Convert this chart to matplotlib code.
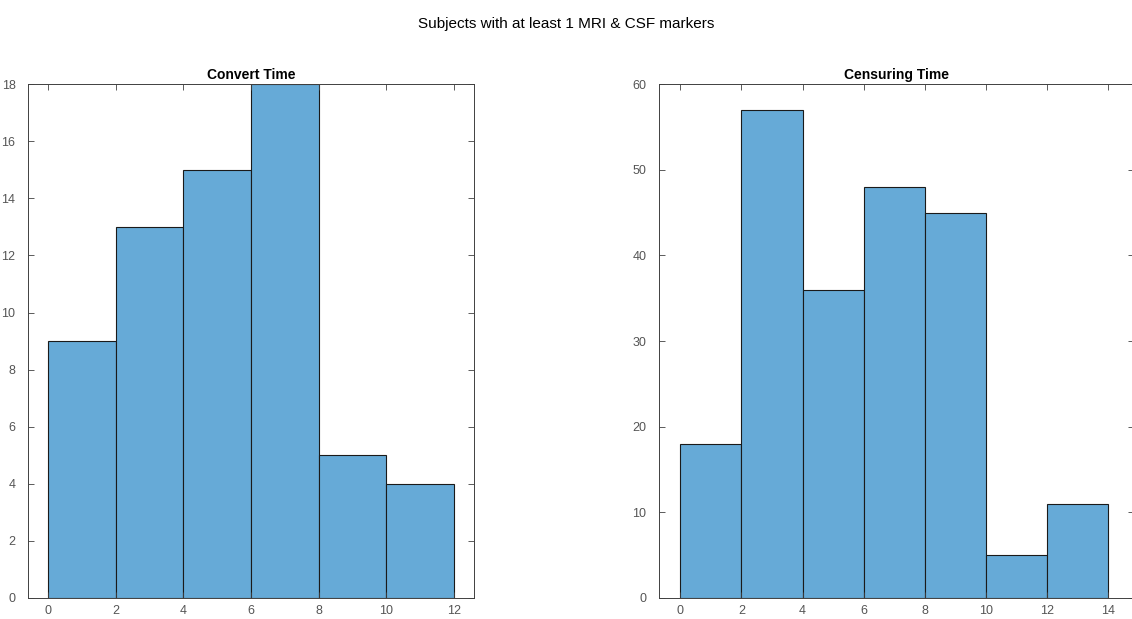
import matplotlib.pyplot as plt
import numpy as np

plt.rcParams['font.family'] = ['Liberation Sans', 'DejaVu Sans']

# histogram data
convert_edges = [0, 2, 4, 6, 8, 10, 12]
convert_counts = [9, 13, 15, 18, 5, 4]
censor_edges = [0, 2, 4, 6, 8, 10, 12, 14]
censor_counts = [18, 57, 36, 48, 45, 5, 11]

bar_color = '#66aad7'
axis_color = '#404040'

fig = plt.figure(figsize=(11.32, 6.19), dpi=100)
fig.text(0.5, 0.962, 'Subjects with at least 1 MRI & CSF markers',
         ha='center', va='center', fontsize=11)

ax1 = fig.add_axes([0.0247, 0.034, 0.394, 0.830])
ax2 = fig.add_axes([0.582, 0.034, 0.420, 0.830])


def draw_hist(ax, edges, counts, title, xlim, ylim, yticks):
    edges = np.asarray(edges)
    ax.bar(edges[:-1], counts, width=np.diff(edges), align='edge',
           color=bar_color, edgecolor='#1a1a1a', linewidth=0.8)
    ax.set_xlim(*xlim)
    ax.set_ylim(*ylim)
    ax.set_xticks(edges)
    ax.set_yticks(yticks)
    ax.set_title(title, fontsize=10, fontweight='bold', pad=4)
    ax.tick_params(direction='in', length=4, width=0.6, top=True, right=True,
                   labelsize=9, colors=axis_color, labelcolor='#555555')
    ax.tick_params(axis='y', pad=9)
    ax.tick_params(axis='x', pad=5)
    for s in ax.spines.values():
        s.set_color(axis_color)
        s.set_linewidth(0.7)


draw_hist(ax1, convert_edges, convert_counts, 'Convert Time',
          (-0.6, 12.6), (0, 18), np.arange(0, 19, 2))
draw_hist(ax2, censor_edges, censor_counts, 'Censuring Time',
          (-0.7, 14.85), (0, 60), np.arange(0, 61, 10))

fig.savefig('out.png', dpi=100)
